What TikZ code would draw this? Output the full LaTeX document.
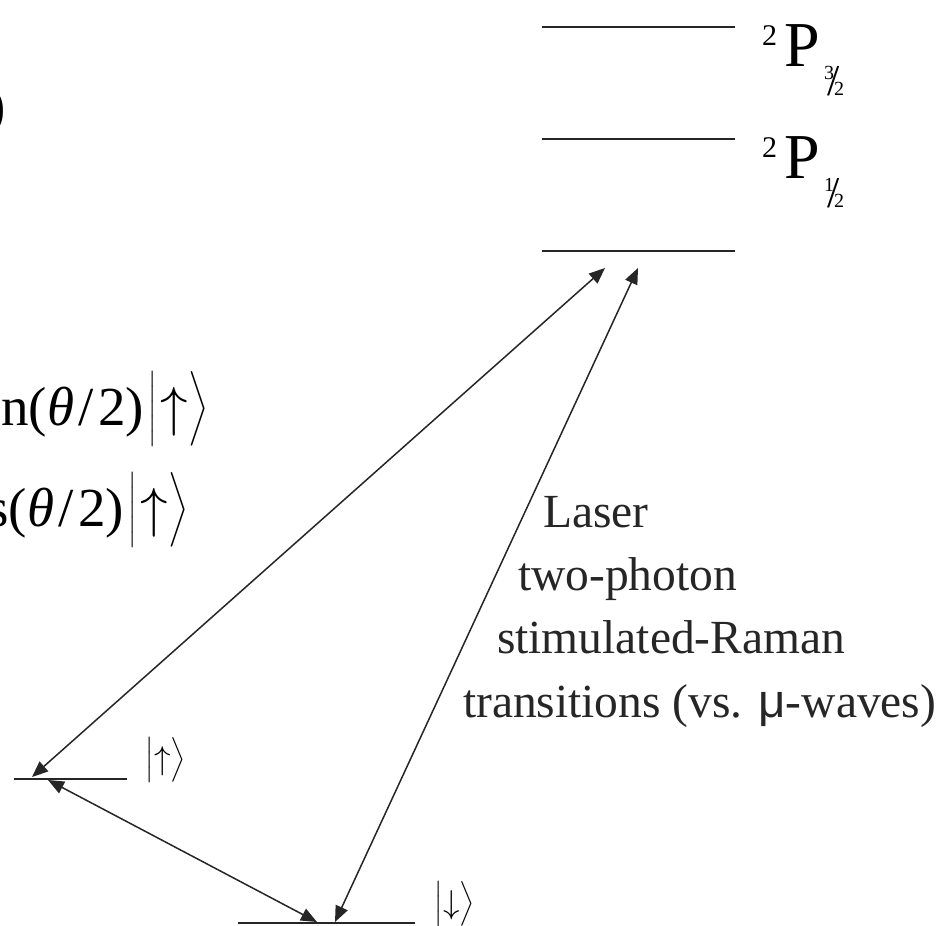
\RequirePackage{fix-cm}
\documentclass[tikz,border=0pt]{standalone}
\usepackage{amsmath}
\usepackage{fontspec}
\setmainfont{Liberation Serif}
\newfontfamily\sanssym{Liberation Sans}
\usetikzlibrary{arrows.meta}
% ket: #1 delimiter size, #2 arrow size, #3 arrow, #4 kern before arrow, #5 kern after arrow
\newcommand\myket[5]{{\fontsize{#1}{#1}\selectfont$\bigl|$}\kern#4{\fontsize{#2}{#2}\selectfont$#3$}\kern#5{\fontsize{#1}{#1}\selectfont$\bigr\rangle$}}
% level label 2P_{#1/#2}
\newcommand\lvllabel[2]{{\fontsize{30}{30}\selectfont\raisebox{21pt}{2}}\kern7pt{\fontsize{64}{64}\selectfont P}\kern4.4pt{\fontsize{20}{20}\selectfont\raisebox{-13pt}{#1}}\kern-6.6pt{\fontsize{44}{44}\selectfont\raisebox{-29pt}{/}}\kern-5.6pt{\fontsize{20}{20}\selectfont\raisebox{-29pt}{#2}}}
\tikzset{
  lvl/.style={line width=1.8pt, draw=black!85},
  trans/.style={line width=1.5pt, draw=black!85,
    {Triangle[length=16pt,width=13pt]}-{Triangle[length=16pt,width=13pt]}},
  txt/.style={inner sep=0pt, outer sep=0pt},
  blocktxt/.style={txt, anchor=base west, text=black!85, font=\fontsize{47.5}{47.5}\selectfont},
  eqtxt/.style={txt, anchor=base east, font=\fontsize{55}{55}\selectfont},
}
\begin{document}
\begin{tikzpicture}[x=1pt,y=-1pt]
\useasboundingbox (0,0) rectangle (948,926);
\clip (0,0) rectangle (948,926);

% energy levels
\coordinate (p32a) at (542,27);  \coordinate (p32b) at (735,27);
\coordinate (p12a) at (542,139); \coordinate (p12b) at (735,139);
\coordinate (vira) at (542,251); \coordinate (virb) at (735,251);
\coordinate (upa) at (14,779);   \coordinate (upb) at (127,779);
\coordinate (dna) at (238,923);  \coordinate (dnb) at (415,923);
\draw[lvl] (p32a) -- (p32b);
\draw[lvl] (p12a) -- (p12b);
\draw[lvl] (vira) -- (virb);
\draw[lvl] (upa) -- (upb);
\draw[lvl] (dna) -- (dnb);

% level labels
\node[txt, anchor=base west] (L32) at (762,66) {\lvllabel{3}{2}};
\node[txt, anchor=base west] (L12) at (762,178) {\lvllabel{1}{2}};

% kets at the ground levels
\node[txt, anchor=base west] (kup) at (145,769) {\myket{37.5}{33}{\uparrow}{1pt}{0pt}};
\node[txt, anchor=base west] (kdn) at (434,913) {\myket{37.5}{33}{\downarrow}{1pt}{0pt}};

% cropped equations at left edge
\node[eqtxt] (rp) at (6,124) {)};
\node[eqtxt] (eq1) at (144,425) {sin(\textit{θ}\kern0.08em/\kern0.08em2)};
\node[txt, anchor=base west] (eq1k) at (148,425) {\myket{63}{55}{\uparrow}{4pt}{1pt}};
\node[eqtxt] (eq2) at (124,526) {cos(\textit{θ}\kern0.08em/\kern0.08em2)};
\node[txt, anchor=base west] (eq2k) at (128,526) {\myket{63}{55}{\uparrow}{4pt}{1pt}};

% text block
\node[blocktxt] (t1) at (543,527) {Laser};
\node[blocktxt] (t2) at (518,590) {two-photon};
\node[blocktxt] (t3) at (497,653) {stimulated-Raman};
\node[blocktxt] (t4) at (463,717) {transitions (vs. {\sanssym μ}-waves)};

% transitions
\coordinate (a1s) at (605,268); \coordinate (a1e) at (32,777);
\coordinate (a2s) at (638,268); \coordinate (a2e) at (335,922);
\coordinate (a3s) at (48,780);  \coordinate (a3e) at (317,922);
\draw[trans] (a1s) -- (a1e);
\draw[trans] (a2s) -- (a2e);
\draw[trans] (a3s) -- (a3e);
\end{tikzpicture}
\end{document}
